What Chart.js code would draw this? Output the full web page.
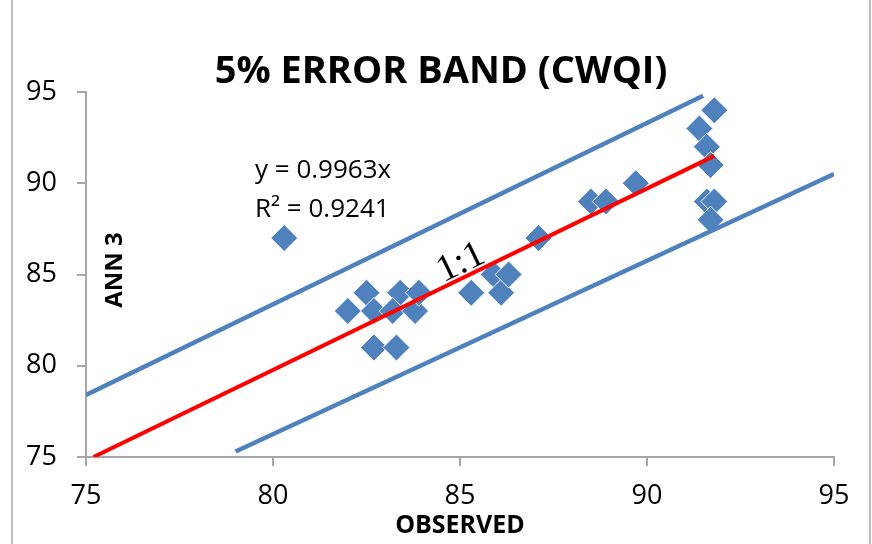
<!DOCTYPE html>
<html>
<head>
<meta charset="utf-8">
<script src="https://cdn.jsdelivr.net/npm/chart.js@4.4.1/dist/chart.umd.min.js"></script>
<style>
  html, body { margin: 0; padding: 0; background: #fff; }
  #wrap { width: 872px; height: 544px; }
</style>
</head>
<body>
<div id="wrap"><canvas id="chart" width="872" height="544"></canvas></div>
<script>
// observed vs ANN 3 predictions (CWQI)
const observed = [80.3, 82.0, 82.5, 82.7, 82.7, 83.3, 83.4, 83.2, 83.8, 83.9, 85.3, 85.9, 86.1, 86.3, 87.1, 88.5, 88.9, 89.7, 91.4, 91.8, 91.6, 91.7, 91.6, 91.8, 91.7];
const ann3     = [87,   83,   84,   83,   81,   81,   84,   83,   83,   84,   84,   85,   84,   85,   87,   89,   89,   90,   93,   94,   92,   91,   89,   89,   88];

// 1:1 trend line and the 5% error band lines (end points)
const fitX = [75.2, 91.8];
const fitY = [75.0, 91.5];
const upperX = [75.0, 91.5];
const upperY = [78.4, 94.8];
const lowerX = [79.0, 95.0];
const lowerY = [75.3, 90.5];

const xTicks = [75, 80, 85, 90, 95];
const yTicks = [75, 80, 85, 90, 95];

const BLUE = '#4F81BD';
const AXIS = '#A6A6A6';
const FONT = '"Open Sans", "Noto Sans", sans-serif';

function pts(xs, ys) {
  return xs.map((x, i) => ({ x: x, y: ys[i] }));
}

const overlay = {
  id: 'overlay',
  afterDraw(chart) {
    const ctx = chart.ctx;
    ctx.save();
    // outer frame
    ctx.strokeStyle = AXIS;
    ctx.lineWidth = 1.5;
    ctx.strokeRect(12, -2, 858, 548);

    ctx.fillStyle = '#000';
    ctx.textAlign = 'center';
    ctx.textBaseline = 'alphabetic';
    ctx.font = 'bold 38px ' + FONT;
    ctx.fillText('5% ERROR BAND (CWQI)', 441, 83);

    ctx.textAlign = 'left';
    ctx.font = '26px ' + FONT;
    ctx.fillText('y = 0.9963x', 255, 178);
    ctx.fillText('R\u00B2 = 0.9241', 255, 217);

    ctx.save();
    ctx.translate(461, 263);
    ctx.rotate(-25.8 * Math.PI / 180);
    ctx.textAlign = 'center';
    ctx.textBaseline = 'middle';
    ctx.font = '38px "Liberation Serif", "DejaVu Serif", serif';
    ctx.fillText('1:1', 0, 0);
    ctx.restore();

    ctx.save();
    ctx.translate(115, 270);
    ctx.rotate(-Math.PI / 2);
    ctx.textAlign = 'center';
    ctx.textBaseline = 'middle';
    ctx.font = 'bold 24px ' + FONT;
    ctx.fillText('ANN 3', 0, 0);
    ctx.restore();
    ctx.restore();
  }
};

new Chart(document.getElementById('chart'), {
  type: 'scatter',
  data: {
    datasets: [
      {
        label: '1:1',
        data: pts(fitX, fitY),
        showLine: true,
        borderColor: '#FF0000',
        borderWidth: 4,
        pointRadius: 0,
        order: 0,
      },
      {
        label: '+5%',
        data: pts(upperX, upperY),
        showLine: true,
        borderColor: BLUE,
        borderWidth: 4.5,
        pointRadius: 0,
        order: 0,
      },
      {
        label: '-5%',
        data: pts(lowerX, lowerY),
        showLine: true,
        borderColor: BLUE,
        borderWidth: 4.5,
        pointRadius: 0,
        order: 0,
      },
      {
        label: 'ANN 3',
        data: pts(observed, ann3),
        pointStyle: 'rectRot',
        pointRadius: 13.5,
        backgroundColor: BLUE,
        borderColor: 'rgba(255,255,255,0.9)',
        borderWidth: 1,
        order: 1,
      },
    ],
  },
  options: {
    responsive: false,
    animation: false,
    layout: { padding: { left: 0, right: 38, top: 92, bottom: 0 } },
    plugins: {
      legend: { display: false },
      tooltip: { enabled: false },
    },
    scales: {
      x: {
        type: 'linear',
        min: 75,
        max: 95,
        afterBuildTicks: (s) => { s.ticks = xTicks.map(v => ({ value: v })); },
        afterFit: (s) => { s.height = 87; },
        grid: { drawOnChartArea: false, color: AXIS, lineWidth: 2, tickLength: 9 },
        border: { color: AXIS, width: 2 },
        ticks: { color: '#000', font: { family: FONT, size: 27 }, padding: 14 },
        title: {
          display: true,
          text: 'OBSERVED',
          color: '#000',
          font: { family: FONT, size: 25, weight: 'bold' },
          padding: { top: 0, bottom: 3 },
        },
      },
      y: {
        type: 'linear',
        min: 75,
        max: 95,
        afterBuildTicks: (s) => { s.ticks = yTicks.map(v => ({ value: v })); },
        afterFit: (s) => { s.width = 86; },
        grid: { drawOnChartArea: false, color: AXIS, lineWidth: 2, tickLength: 9 },
        border: { color: AXIS, width: 2 },
        ticks: { color: '#000', font: { family: FONT, size: 27 }, padding: 20 },
      },
    },
  },
  plugins: [overlay],
});
</script>
</body>
</html>
